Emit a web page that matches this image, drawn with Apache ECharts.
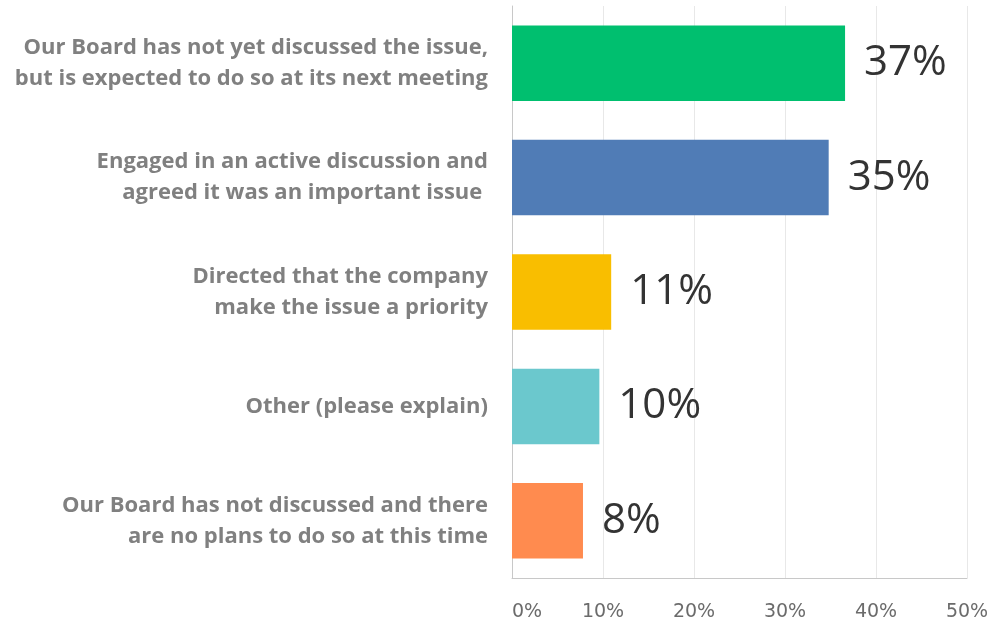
<!DOCTYPE html>
<html>
<head>
<meta charset="utf-8">
<script src="https://cdn.jsdelivr.net/npm/echarts@6/dist/echarts.min.js"></script>
<style>
html,body{margin:0;padding:0;background:#fff;}
#chart{width:992px;height:623px;}
</style>
</head>
<body>
<div id="chart"></div>
<script>
var categories = [
  "Our Board has not yet discussed the issue,\nbut is expected to do so at its next meeting",
  "Engaged in an active discussion and\nagreed it was an important issue ",
  "Directed that the company\nmake the issue a priority",
  "Other (please explain)",
  "Our Board has not discussed and there\nare no plans to do so at this time"
];
var values = [36.6, 34.8, 10.9, 9.6, 7.8];
var barColors = ["#00BF6F", "#507CB6", "#F9BE00", "#6BC8CD", "#FF8B4F"];
var xTicks = [0, 10, 20, 30, 40, 50];

var chart = echarts.init(document.getElementById('chart'));
chart.setOption({
  animation: false,
  grid: {left: 512, right: 25, top: 6, bottom: 45, containLabel: false},
  xAxis: {
    type: 'value',
    min: xTicks[0],
    max: xTicks[xTicks.length - 1],
    interval: 10,
    axisLine: {show: true, lineStyle: {color: '#c8c8c8', width: 1}},
    axisTick: {show: false},
    splitLine: {show: true, lineStyle: {color: '#e8e8e8', width: 1}},
    axisLabel: {
      formatter: '{value}%',
      color: '#6b6b6b',
      fontFamily: 'DejaVu Sans',
      fontSize: 19,
      margin: 25,
      alignMinLabel: 'left'
    }
  },
  yAxis: {
    type: 'category',
    inverse: true,
    data: categories,
    axisLine: {show: true, lineStyle: {color: '#c8c8c8', width: 1}},
    axisTick: {show: false},
    axisLabel: {
      color: '#808080',
      fontFamily: 'Open Sans',
      fontWeight: 'bold',
      fontSize: 22,
      lineHeight: 31,
      margin: 24,
      align: 'right'
    }
  },
  series: [{
    type: 'bar',
    data: values.map(function (v, i) { return {value: v, itemStyle: {color: barColors[i]}}; }),
    barCategoryGap: '34%',
    label: {
      show: true,
      position: 'right',
      distance: 19,
      formatter: function (p) { return Math.round(p.value) + '%'; },
      color: '#333',
      fontFamily: 'Open Sans',
      fontSize: 42
    }
  }]
});
</script>
</body>
</html>
